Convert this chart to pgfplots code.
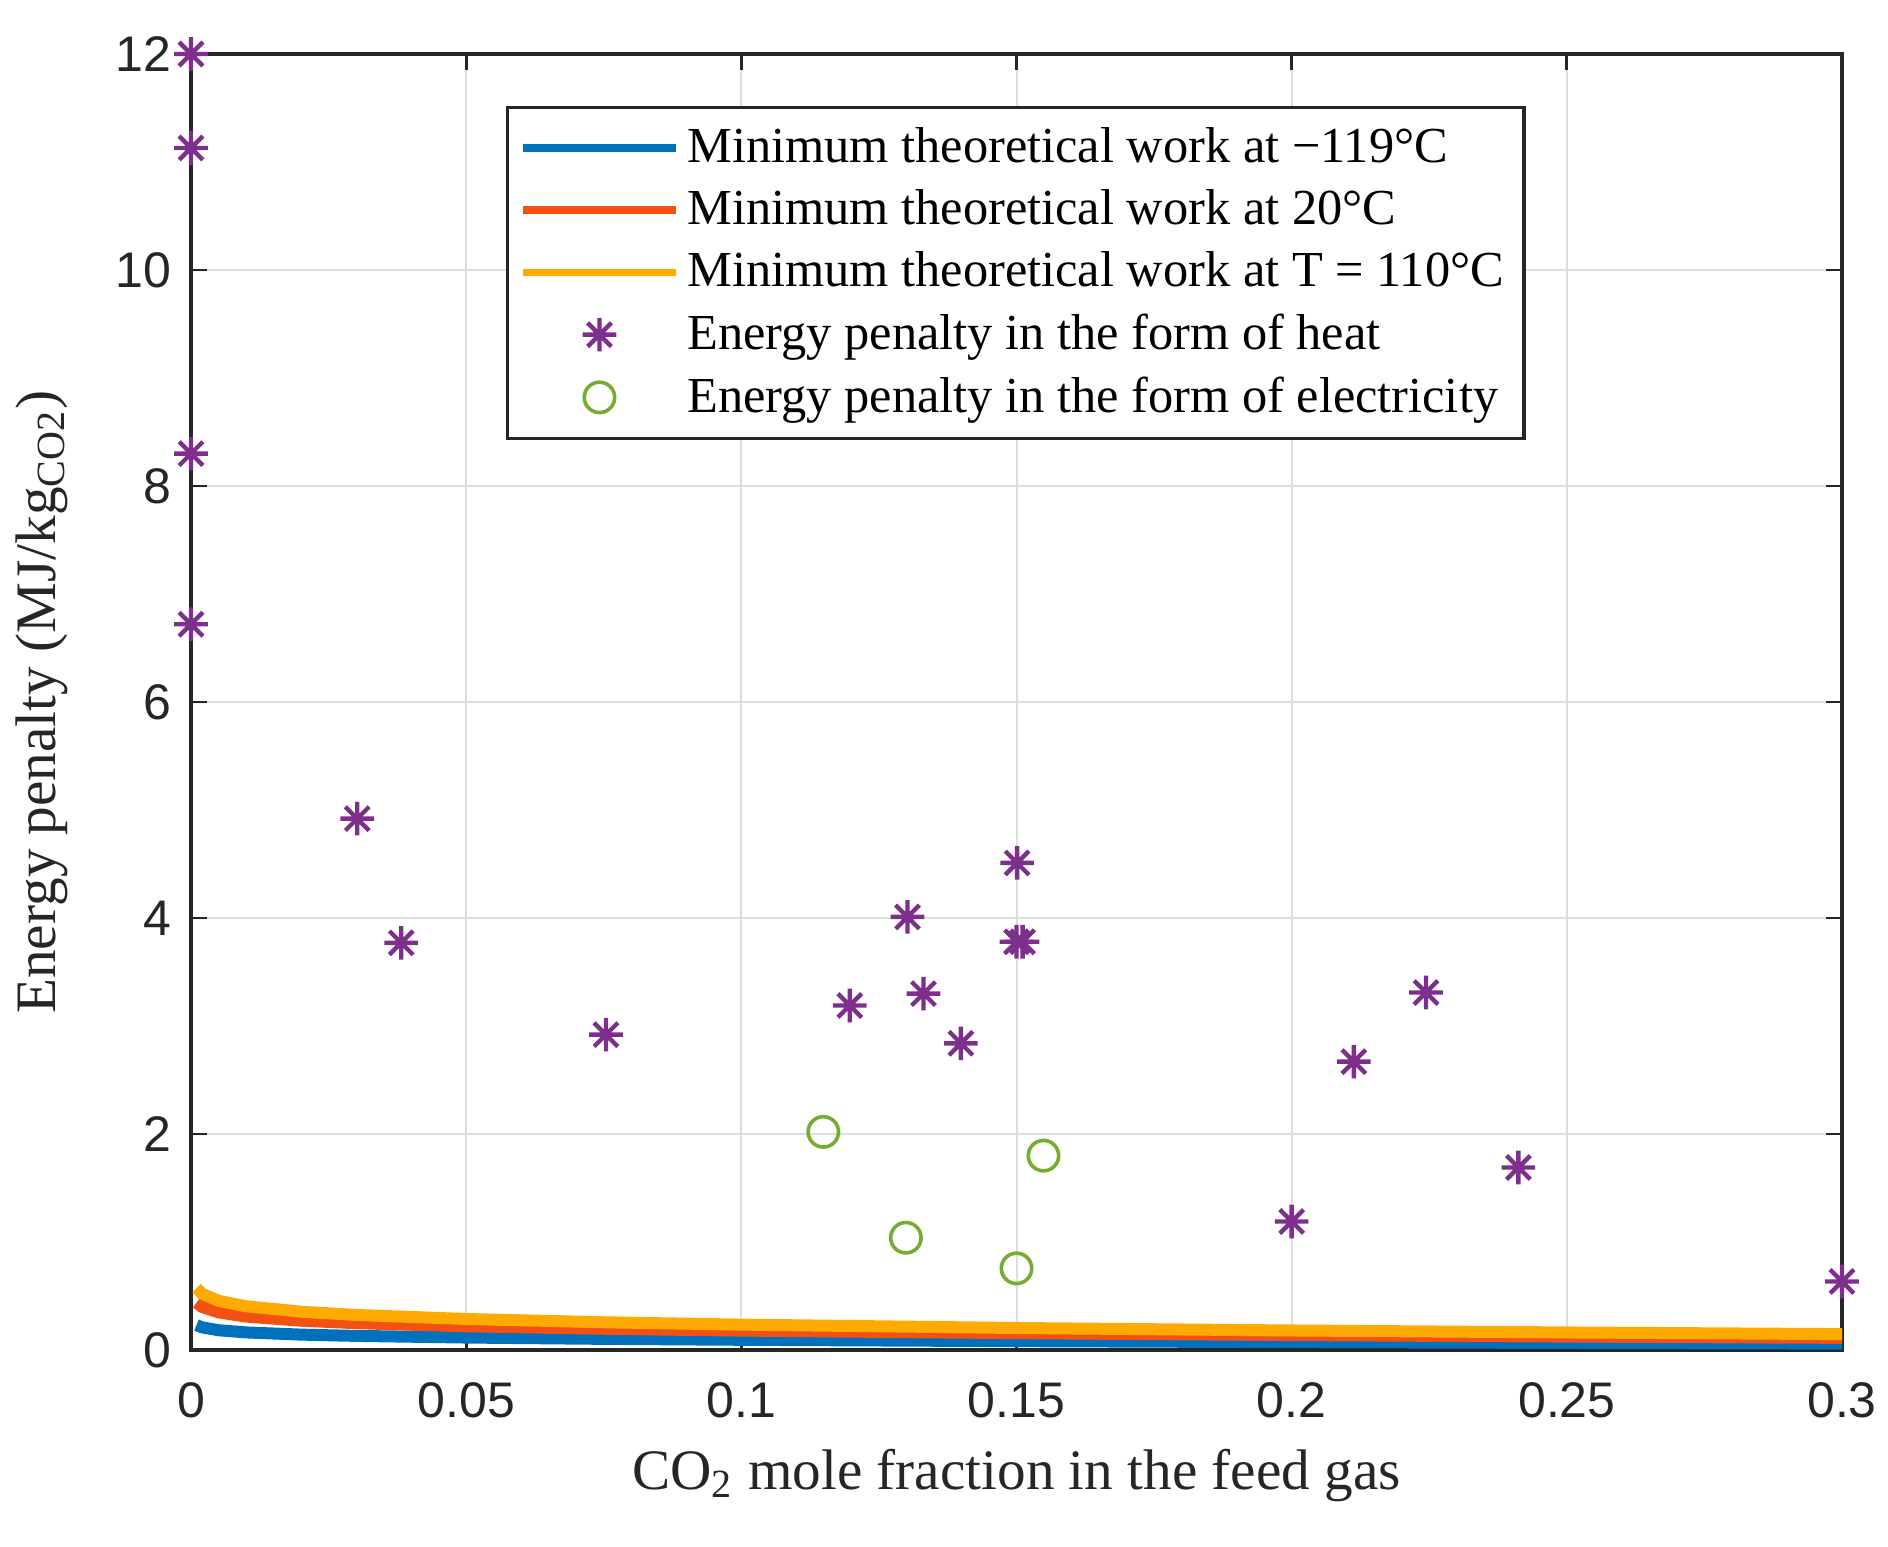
\documentclass[border=0pt]{standalone}
\usepackage{fontspec}
\setmainfont{Liberation Serif}
\setsansfont{Liberation Sans}
\usepackage{pgfplots}
\pgfplotsset{compat=1.18}
\definecolor{mblue}{RGB}{0,114,189}
\definecolor{mred}{RGB}{245,80,20}
\definecolor{myel}{RGB}{255,170,0}
\definecolor{mpur}{RGB}{126,47,142}
\definecolor{mgrn}{RGB}{119,172,48}
\definecolor{axgray}{RGB}{38,38,38}
\pgfdeclareplotmark{mstar}{%
  \pgfpathmoveto{\pgfqpoint{-\pgfplotmarksize}{0pt}}\pgfpathlineto{\pgfqpoint{\pgfplotmarksize}{0pt}}%
  \pgfpathmoveto{\pgfqpoint{0pt}{-\pgfplotmarksize}}\pgfpathlineto{\pgfqpoint{0pt}{\pgfplotmarksize}}%
  \pgfpathmoveto{\pgfqpoint{-0.707\pgfplotmarksize}{-0.707\pgfplotmarksize}}\pgfpathlineto{\pgfqpoint{0.707\pgfplotmarksize}{0.707\pgfplotmarksize}}%
  \pgfpathmoveto{\pgfqpoint{-0.707\pgfplotmarksize}{0.707\pgfplotmarksize}}\pgfpathlineto{\pgfqpoint{0.707\pgfplotmarksize}{-0.707\pgfplotmarksize}}%
  \pgfusepathqstroke}
\begin{document}
\begin{tikzpicture}
\begin{axis}[
  scale only axis, width=412.75pt, height=324pt,
  xmin=0, xmax=0.3, ymin=0, ymax=12,
  xtick={0,0.05,0.1,0.15,0.2,0.25,0.3},
  xticklabels={0,0.05,0.1,0.15,0.2,0.25,0.3},
  ytick={0,2,4,6,8,10,12},
  yticklabels={0,2,4,6,8,10,12},
  tick align=inside, major tick length=4pt,
  grid=major, major grid style={black!13, line width=0.5pt},
  axis line style={axgray, line width=0.8pt},
  tick style={axgray, line width=0.7pt},
  tick label style={font=\sffamily\fontsize{12.5}{14}\selectfont, text=axgray},
  xticklabel style={yshift=-4.5pt},
  yticklabel style={xshift=-1.5pt},
  /pgf/number format/assume math mode=true,
  xlabel={CO\textsubscript{2} mole fraction in the feed gas},
  ylabel={Energy penalty (MJ/kg\textsubscript{CO2})},
  label style={font=\fontsize{14.3}{16}\selectfont, text=axgray},
  xlabel style={at={(axis description cs:0.5,-0.0965)}, anchor=center},
  ylabel style={at={(axis description cs:-0.0902,0.5)}, anchor=center},
  clip=false,
  legend cell align=left,
  legend style={at={(rel axis cs:0.1908,0.96)}, anchor=north west,
    draw=axgray, line width=0.8pt, fill=white,
    font=\fontsize{12.6}{14}\selectfont, text=black,
    inner xsep=3pt, inner ysep=3pt,
    row sep=1.3pt},
  legend image code/.code={\draw[mark repeat=2,mark phase=2,#1] plot coordinates {(0cm,0cm) (0.67cm,0cm) (1.34cm,0cm)};},
]
\addplot[mblue, line width=3pt, legend image post style={line width=1.8pt}] coordinates {
 (0.001,0.2303) (0.002,0.2101) (0.005,0.1833) (0.01,0.1631) (0.02,0.1427) (0.03,0.1308)
 (0.05,0.1156) (0.075,0.1034) (0.1,0.0947) (0.15,0.0821) (0.2,0.0729) (0.25,0.0655) (0.3,0.0593)};
\addlegendentry{Minimum theoretical work at −119°C}
\addplot[mred, line width=3pt, legend image post style={line width=1.8pt}] coordinates {
 (0.001,0.4379) (0.002,0.3995) (0.005,0.3487) (0.01,0.3101) (0.02,0.2715) (0.03,0.2487)
 (0.05,0.2199) (0.075,0.1967) (0.1,0.1800) (0.15,0.1561) (0.2,0.1386) (0.25,0.1246) (0.3,0.1128)};
\addlegendentry{Minimum theoretical work at 20°C}
\addplot[myel, line width=3pt, legend image post style={line width=1.8pt}] coordinates {
 (0.001,0.5723) (0.002,0.5221) (0.005,0.4557) (0.01,0.4053) (0.02,0.3548) (0.03,0.3251)
 (0.05,0.2874) (0.075,0.2571) (0.1,0.2353) (0.15,0.2040) (0.2,0.1811) (0.25,0.1628) (0.3,0.1474)};
\addlegendentry{Minimum theoretical work at T = 110°C}
\addplot[only marks, mark=mstar, mark size=4.2pt, mpur, line width=1.1pt] coordinates {
 (0,12) (0,11.13) (0,8.30) (0,6.72) (0.0302,4.92) (0.0382,3.77) (0.0754,2.92)
 (0.1197,3.19) (0.1302,4.01) (0.1331,3.30) (0.1399,2.84) (0.1501,4.51)
 (0.1500,3.78) (0.1511,3.78) (0.2,1.19) (0.2113,2.67) (0.2244,3.31) (0.2412,1.69) (0.3,0.635)};
\addlegendentry{Energy penalty in the form of heat}
\addplot[only marks, mark=o, mark size=3.8pt, mgrn, line width=0.9pt] coordinates {
 (0.1149,2.02) (0.1299,1.04) (0.1500,0.756) (0.1549,1.80)};
\addlegendentry{Energy penalty in the form of electricity}
\end{axis}
\pgfresetboundingbox
\path ([shift={(-47.75pt,-49pt)}]current axis.south west) rectangle ([shift={(11.5pt,13.5pt)}]current axis.north east);
\end{tikzpicture}
\end{document}
